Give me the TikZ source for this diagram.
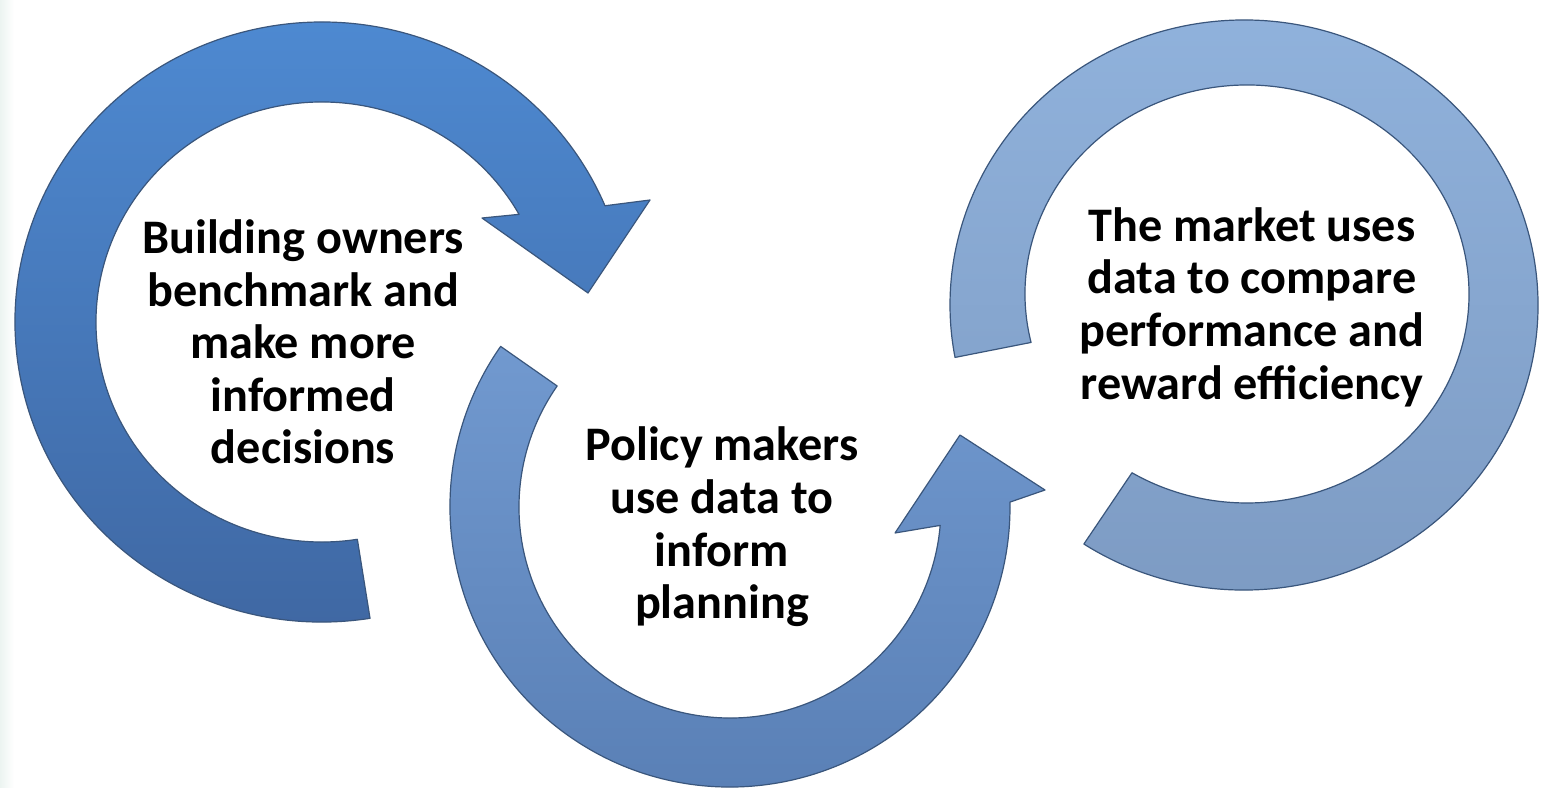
\documentclass[tikz,border=0pt]{standalone}
\usepackage{fontspec}
\setmainfont{Carlito}
\usepackage{tikz}
\usetikzlibrary{calc}
\definecolor{RingOneTop}{RGB}{78,138,210}
\definecolor{RingOneBot}{RGB}{63,103,162}
\definecolor{RingTwoTop}{RGB}{113,153,207}
\definecolor{RingTwoBot}{RGB}{88,126,180}
\definecolor{RingThreeTop}{RGB}{145,179,221}
\definecolor{RingThreeBot}{RGB}{124,154,194}
\definecolor{EdgeLine}{RGB}{58,86,124}
\definecolor{PageTint}{RGB}{236,244,241}

\begin{document}
\begin{tikzpicture}[x=0.5pt,y=-0.5pt, line join=round,
	   ringarrow/.style 2 args = {draw=EdgeLine, line width=0.6pt,
	                              top color=#1, bottom color=#2},
	   caption/.style = {align=center, text=black,
	                     font=\fontsize{24.1}{26.3}\selectfont\bfseries}]
	%% Page
	\fill[white] (0,0) rectangle (1544,788);
	\shade[left color=PageTint, right color=white] (0,0) rectangle (14,788);
	\useasboundingbox (0,0) rectangle (1544,788);

	%% Ring centres
	\coordinate (c1) at (322,322);
	\coordinate (c2) at (730,507);
	\coordinate (c3o) at (1244,305);
	\coordinate (c3i) at (1247,294);

	%% Owners arrow (clockwise)
	\path[ringarrow={RingOneTop}{RingOneBot}]
	     ($(c1)+(81:307 and 300)$) arc[start angle=81, end angle=337.2, x radius=307, y radius=300]
	     -- (650,200) -- (588,293) -- (482,218)
	     -- ($(c1)+(330.7:226 and 220)$) arc[start angle=330.7, end angle=81, x radius=226, y radius=220]
	     -- cycle;

	%% Policy arrow (counter clockwise)
	\path[ringarrow={RingTwoTop}{RingTwoBot}]
	     ($(c2)+(215:280)$) arc[start angle=215, end angle=-1, radius=280]
	     -- (1045,490) -- (960,435) -- (895,533)
	     -- ($(c2)+(5:211)$) arc[start angle=5, end angle=215, radius=211]
	     -- cycle;

	%% Market ring
	\path[ringarrow={RingThreeTop}{RingThreeBot}]
	     ($(c3o)+(123:294 and 285)$) arc[start angle=123, end angle=-190.6, x radius=294, y radius=285]
	     -- ($(c3i)+(-193.4:222 and 209)$) arc[start angle=-193.4, end angle=121.2, x radius=222, y radius=209]
	     -- cycle;

	%% Texts
	\node[caption] (owners) at (303,342) {Building owners\\benchmark and\\make more\\informed\\decisions};
	\node[caption] (policy) at (722,527) {Policy makers\\use data to\\inform\\planning};
	\node[caption] (market) at (1252,307) {The market uses\\data to compare\\performance and\\reward efficiency};
\end{tikzpicture}
\end{document}
